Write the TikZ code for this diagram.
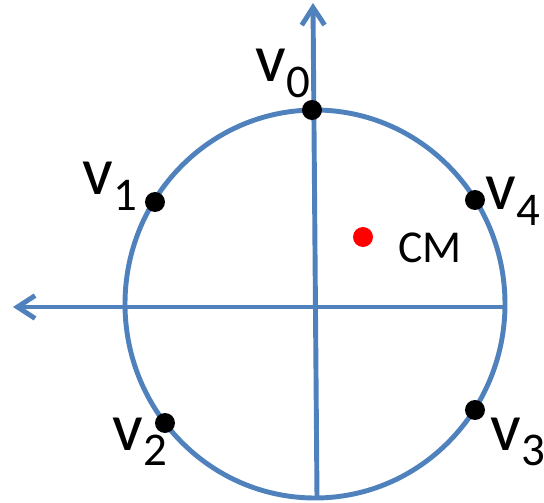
\documentclass[tikz,border=0pt]{standalone}
\usepackage{fontspec}
\setmainfont{Carlito}
\usetikzlibrary{arrows.meta}

\definecolor{ejeazul}{HTML}{4F81BD}
\newcommand{\vlabel}[1]{\fontsize{38.7}{40}\selectfont v\raisebox{-9.1pt}{\fontsize{26.7}{28}\selectfont #1}}

\tikzset{
    eje/.style={ejeazul, line width=2.8pt, -{Straight Barb[length=10pt, width=13pt, line width=2.8pt]}},
    vertice/.style={circle, fill=black, inner sep=0pt, minimum size=0.4cm},
    etiqueta/.style={anchor=base west, inner sep=0pt}
}

\begin{document}
\begin{tikzpicture}
        \useasboundingbox (-6.3, -3.96) rectangle (4.58, 6.08);

        % Circunferencia
        \draw[ejeazul, line width=2.8pt] (0, 0) ellipse (3.8 and 3.88);

        % Ejes
        \coordinate (abajo) at (0.04, -3.86);
        \coordinate (arriba) at (-0.04, 6.02);
        \coordinate (derecha) at (3.8, -0.06);
        \coordinate (izquierda) at (-6.04, -0.06);
        \draw[eje] (abajo) -- (arriba);
        \draw[eje] (derecha) -- (izquierda);

        % Vertices
        \node[vertice] (v0) at (-0.06, 3.88) {};
        \node[vertice] (v1) at (-3.2, 2.04) {};
        \node[vertice] (v2) at (-3.0, -2.38) {};
        \node[vertice] (v3) at (3.2, -2.12) {};
        \node[vertice] (v4) at (3.2, 2.08) {};

        % Centro de masa
        \node[vertice, fill=red] (cm) at (0.96, 1.34) {};

        % Etiquetas
        \node[etiqueta] (lv0) at (-1.2, 4.44) {\vlabel{0}};
        \node[etiqueta] (lv1) at (-4.66, 2.18) {\vlabel{1}};
        \node[etiqueta] (lv2) at (-4.06, -2.92) {\vlabel{2}};
        \node[etiqueta] (lv3) at (3.5, -2.92) {\vlabel{3}};
        \node[etiqueta] (lv4) at (3.4, 1.88) {\vlabel{4}};
        \node[etiqueta] (lcm) at (1.66, 0.82) {\fontsize{26}{28}\selectfont CM};

    \end{tikzpicture}
\end{document}
